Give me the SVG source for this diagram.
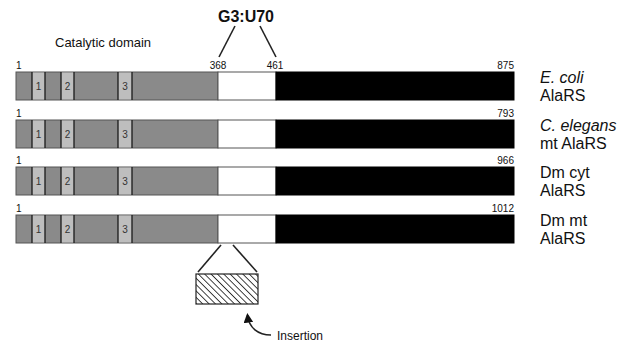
<svg xmlns="http://www.w3.org/2000/svg" width="625" height="345" viewBox="0 0 625 345">
  <defs>
    <style>
      text { font-family: "Liberation Sans", Arial, sans-serif; fill: #111; }
      .num { font-size: 10px; }
      .sp { font-size: 16px; }
      .it { font-style: italic; }
      .cat { fill: #8a8a8a; stroke: #555; stroke-width: 1; }
      .motif { fill: #bebebe; }
      .edge { stroke: #1a1a1a; stroke-width: 1.3; }
      .ins { fill: #fff; stroke: #555; stroke-width: 1; }
      .cterm { fill: #000; stroke: #000; stroke-width: 1; }
      .lbl { font-size: 10px; text-anchor: middle; fill: #333; }
      .ln { stroke: #222; stroke-width: 1.6; fill: none; }
    </style>
    <pattern id="hatch" patternUnits="userSpaceOnUse" width="4.5" height="4.5" patternTransform="rotate(-45)">
      <rect width="4.5" height="4.5" fill="#fff"/>
      <line x1="0" y1="0" x2="0" y2="4.5" stroke="#222" stroke-width="1.7"/>
    </pattern>
    <marker id="arrow" viewBox="0 0 10 10" refX="8" refY="5" markerWidth="6" markerHeight="6" orient="auto">
      <path d="M0,0 L10,5 L0,10 z" fill="#111"/>
    </marker>
    <!-- one AlaRS bar: catalytic domain, motifs 1-3, insertion region, C-terminal domain -->
    <g id="bar">
      <rect class="cat" x="16" y="0" width="202" height="28"/>
      <rect class="motif" x="32" y="0.5" width="13" height="27"/>
      <rect class="motif" x="61" y="0.5" width="13" height="27"/>
      <rect class="motif" x="118" y="0.5" width="14" height="27"/>
      <line class="edge" x1="32" y1="0" x2="32" y2="28"/>
      <line class="edge" x1="45" y1="0" x2="45" y2="28"/>
      <line class="edge" x1="61" y1="0" x2="61" y2="28"/>
      <line class="edge" x1="74" y1="0" x2="74" y2="28"/>
      <line class="edge" x1="118" y1="0" x2="118" y2="28"/>
      <line class="edge" x1="132" y1="0" x2="132" y2="28"/>
      <rect class="ins" x="218" y="0" width="58" height="28"/>
      <rect class="cterm" x="276" y="0" width="238" height="28"/>
      <text class="lbl" x="38.5" y="18">1</text>
      <text class="lbl" x="67.5" y="18">2</text>
      <text class="lbl" x="125" y="18">3</text>
    </g>
  </defs>

  <text x="55" y="47" font-size="13">Catalytic domain</text>
  <text x="246" y="22" font-size="16" font-weight="bold" text-anchor="middle">G3:U70</text>

  <g id="connectors">
    <line class="ln" x1="235" y1="26" x2="219" y2="57"/>
    <line class="ln" x1="260" y1="26" x2="276" y2="57"/>
    <line class="ln" x1="221" y1="245" x2="198" y2="272" stroke-width="1.2"/>
    <line class="ln" x1="233" y1="245" x2="257" y2="272" stroke-width="1.2"/>
    <path class="ln" d="M271,335 C258,335 249,328 247.5,315" stroke-width="1.3" marker-end="url(#arrow)"/>
  </g>

  <g id="ecoli">
    <use href="#bar" y="72"/>
    <text class="num" x="16" y="69">1</text>
    <text class="num" x="218" y="69" text-anchor="middle">368</text>
    <text class="num" x="275" y="69" text-anchor="middle">461</text>
    <text class="num" x="514" y="69" text-anchor="end">875</text>
    <text class="sp it" x="540" y="83">E. coli</text>
    <text class="sp" x="540" y="101">AlaRS</text>
  </g>

  <g id="celegans">
    <use href="#bar" y="120"/>
    <text class="num" x="16" y="117">1</text>
    <text class="num" x="514" y="117" text-anchor="end">793</text>
    <text class="sp it" x="540" y="131">C. elegans</text>
    <text class="sp" x="540" y="149">mt AlaRS</text>
  </g>

  <g id="dmcyt">
    <use href="#bar" y="167"/>
    <text class="num" x="16" y="164">1</text>
    <text class="num" x="514" y="164" text-anchor="end">966</text>
    <text class="sp" x="540" y="178">Dm cyt</text>
    <text class="sp" x="540" y="196">AlaRS</text>
  </g>

  <g id="dmmt">
    <use href="#bar" y="215"/>
    <text class="num" x="16" y="212">1</text>
    <text class="num" x="514" y="212" text-anchor="end">1012</text>
    <text class="sp" x="540" y="226">Dm mt</text>
    <text class="sp" x="540" y="244">AlaRS</text>
  </g>

  <g id="insertion">
    <rect x="196" y="274" width="62" height="30" fill="url(#hatch)" stroke="#222" stroke-width="1.2"/>
    <text x="277" y="340" font-size="12">Insertion</text>
  </g>
</svg>
